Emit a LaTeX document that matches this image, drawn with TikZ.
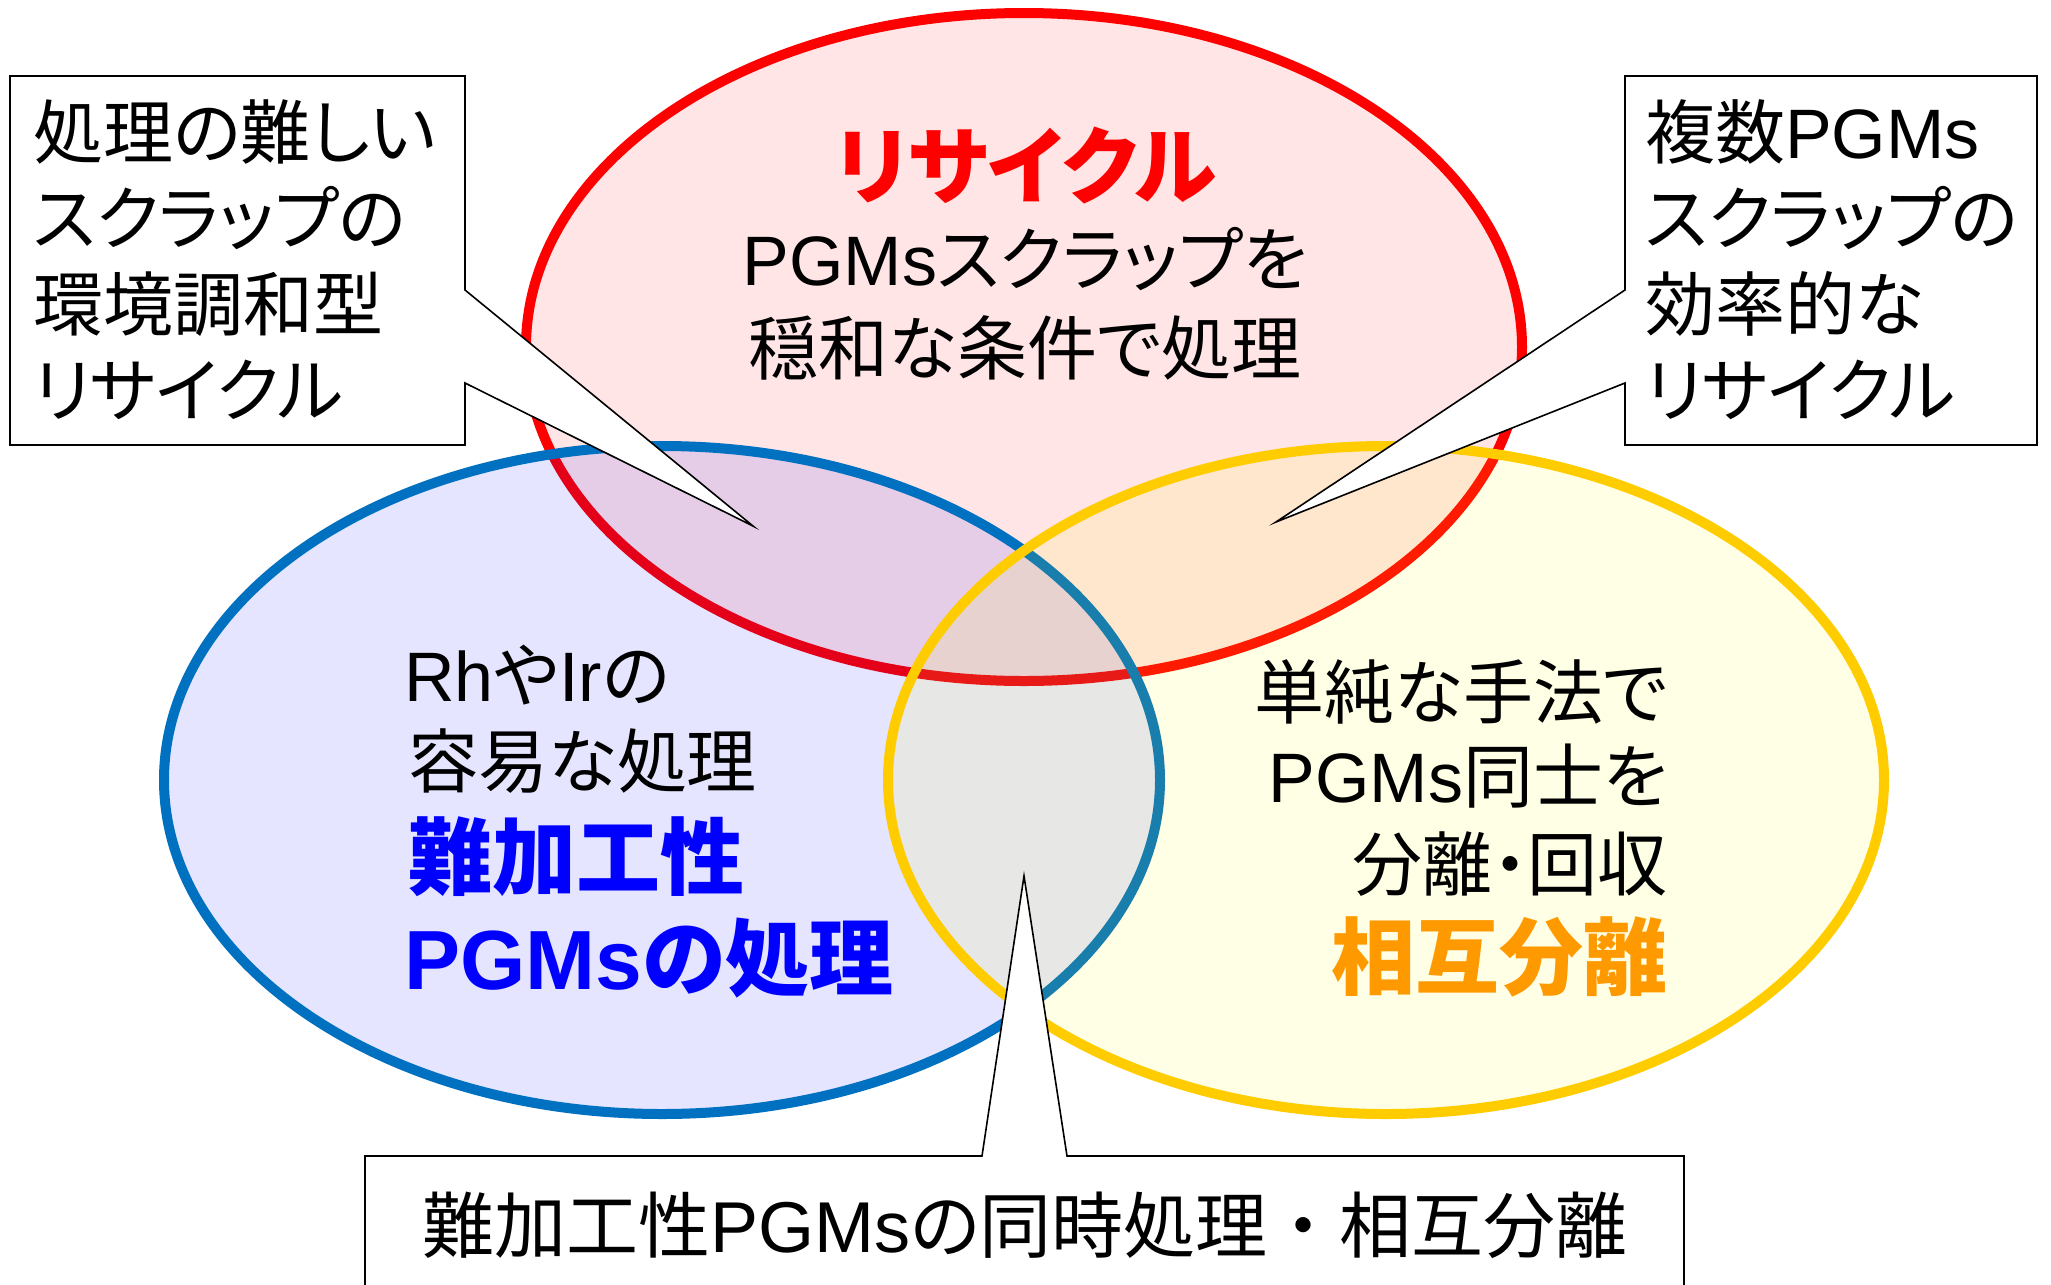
\documentclass[tikz,border=0pt]{standalone}
\usepackage{fontspec}
\setmainfont{Noto Sans CJK JP}[RawFeature=+palt]
\newfontfamily\jfw{Noto Sans CJK JP}
\newfontfamily\lat{Liberation Sans}
\newcommand\pg{{\lat PGMs}}
\definecolor{cred}{HTML}{FF0000}
\definecolor{cblue}{HTML}{0000FF}
\definecolor{cbluel}{HTML}{0070C0}
\definecolor{cyell}{HTML}{FFCC00}
\definecolor{cyellf}{HTML}{FFFF00}
\definecolor{corange}{HTML}{FF9900}
\begin{document}
\begin{tikzpicture}[x=1pt,y=-1pt,
  ring/.style={line width=10pt, fill opacity=0.1, draw opacity=1},
  txt/.style={inner sep=0pt, font=\fontsize{70}{84}\selectfont},
  big/.style={inner sep=0pt, font=\fontsize{84}{100}\selectfont\bfseries},
  callout/.style={draw=black, line width=1.6pt, fill=white, line join=miter}]
\useasboundingbox (0,0) rectangle (2051,1285);
\fill[white] (0,0) rectangle (2051,1285);
\begin{scope}
\clip (0,0) rectangle (2051,1285);
% ellipses
\path[ring, draw=cred, fill=cred] (1024,347) ellipse [x radius=498, y radius=334];
\path[ring, draw=cbluel, fill=cblue] (662,780) ellipse [x radius=498, y radius=334];
\path[ring, draw=cyell, fill=cyellf] (1386,780) ellipse [x radius=498, y radius=334];

% red ellipse text
\node[big, text=cred, anchor=base] (rt1) at (1026,197) {リサイクル};
\node[txt, anchor=base] (rt2) at (1025,285) {\pg スクラップを};
\node[txt, anchor=base] (rt3) at (1025,374) {穏和な条件で処理};

% blue ellipse text
\node[txt, anchor=base west] (bt1) at (404,701) {{\lat Rh}や{\lat Ir}の};
\node[txt, anchor=base west] (bt2) at (408,787) {容易な処理};
\node[big, text=cblue, anchor=base west] (bt3) at (408,888) {難加工性};
\node[big, text=cblue, anchor=base west] (bt4) at (404,989) {\pg の処理};

% yellow ellipse text
\node[txt, anchor=base east] (yt1) at (1668,718) {単純な手法で};
\node[txt, anchor=base east] (yt2) at (1668,802) {\pg 同士を};
\node[txt, anchor=base east] (yt3) at (1668,890) {分離・回収};
\node[big, text=corange, anchor=base east] (yt4) at (1668,988) {相互分離};

% callouts
\coordinate (tipA) at (753,526);
\coordinate (tipB) at (1276,522);
\coordinate (tipC) at (1024,876);
\path[callout] (10,76) -- (465,76) -- (465,290) -- (tipA) -- (465,383) -- (465,445) -- (10,445) -- cycle;
\path[callout] (1625,76) -- (2037,76) -- (2037,445) -- (1625,445) -- (1625,383) -- (tipB) -- (1625,290) -- cycle;
\path[callout] (365,1300) -- (365,1156) -- (982,1156) -- (tipC) -- (1067,1156) -- (1684,1156) -- (1684,1300);

% callout texts
\node[txt, anchor=base west] (la1) at (33,158) {処理の難しい};
\node[txt, anchor=base west] (la2) at (33,244) {スクラップの};
\node[txt, anchor=base west] (la3) at (33,330) {環境調和型};
\node[txt, anchor=base west] (la4) at (33,416) {リサイクル};

\node[txt, anchor=base west] (ra1) at (1645,158) {複数\pg};
\node[txt, anchor=base west] (ra2) at (1645,244) {スクラップの};
\node[txt, anchor=base west] (ra3) at (1645,330) {効率的な};
\node[txt, anchor=base west] (ra4) at (1645,416) {リサイクル};

\node[txt, font=\fontsize{72}{84}\selectfont, anchor=base] (bot) at (1025,1252) {難加工性\pg の同時処理{\jfw ・}相互分離};
\end{scope}
\end{tikzpicture}
\end{document}
